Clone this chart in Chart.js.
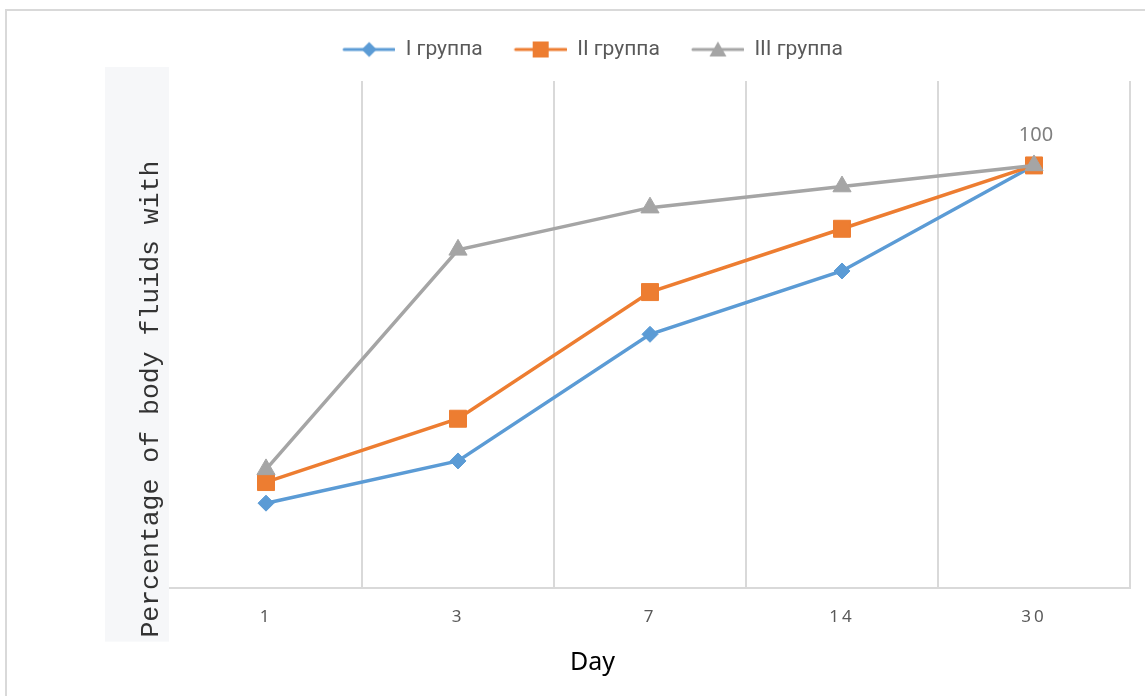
<!DOCTYPE html>
<html lang="ru">
<head>
<meta charset="UTF-8">
<title>Percentage of body fluids</title>
<script src="https://cdn.jsdelivr.net/npm/chart.js"></script>
<style>
    html, body { margin: 0; padding: 0; background: #fff; }
    /* light frame around the figure, only left and top edges are visible */
    #frame {
        position: absolute; left: 5px; top: 9px;
        width: 1200px; height: 720px;
        border-left: 2px solid #d9d9d9; border-top: 2px solid #d9d9d9;
    }
    #wrap { position: absolute; left: 0; top: 0; width: 1145px; height: 696px; }
</style>
</head>
<body>
<div id="frame"></div>
<div id="wrap"><canvas id="grafico"></canvas></div>

<script>
    // data
    const days = ['1', '3', '7', '14', '30'];
    const group1 = [20, 30, 60, 75, 100];
    const group2 = [25, 40, 70, 85, 100];
    const group3 = [28, 80, 90, 95, 100];
    const groupNames = ['I группа', 'II группа', 'III группа'];
    const colors = ['#5b9bd5', '#ed7d31', '#a5a5a5'];
    const markers = ['rectRot', 'rect', 'triangle'];
    const yTitle = 'Percentage of body fluids with';
    const xTitle = 'Day';

    Chart.defaults.font.family = "'Noto Sans', sans-serif";

    // legend icon: short line with the marker in the middle (a bit of room on the left)
    function legendIcon(color, shape) {
        const c = document.createElement('canvas');
        c.width = 62;
        c.height = 20;
        const g = c.getContext('2d');
        g.strokeStyle = color;
        g.fillStyle = color;
        g.lineWidth = 3;
        g.lineCap = 'round';
        g.beginPath();
        g.moveTo(11, 10);
        g.lineTo(61, 10);
        g.stroke();
        const x = 36, y = 10;
        g.beginPath();
        if (shape === 'rectRot') {
            g.moveTo(x, y - 7.5); g.lineTo(x + 7.5, y); g.lineTo(x, y + 7.5); g.lineTo(x - 7.5, y);
        } else if (shape === 'rect') {
            g.rect(x - 8, y - 8, 16, 16);
        } else {
            g.moveTo(x, y - 8); g.lineTo(x + 8.5, y + 7); g.lineTo(x - 8.5, y + 7);
        }
        g.closePath();
        g.fill();
        return c;
    }
    const icons = colors.map((c, i) => legendIcon(c, markers[i]));

    // axis title box, x title, the single data label, spaced-out day labels
    const extras = {
        id: 'extras',
        afterLayout(chart) {
            const sx = chart.scales.x;
            if (!sx._spaced) {
                const orig = sx.drawLabels.bind(sx);
                sx.drawLabels = function (area) {
                    sx.ctx.save();
                    sx.ctx.letterSpacing = '3px';
                    orig(area);
                    sx.ctx.restore();
                };
                sx._spaced = true;
            }
        },
        beforeDraw(chart) {
            const ctx = chart.ctx;
            const a = chart.chartArea;
            ctx.save();
            ctx.fillStyle = '#f6f7f9';
            ctx.fillRect(a.left - 65, a.top - 14, 64, a.bottom - a.top + 68);
            ctx.translate(a.left - 12, a.bottom + 50);
            ctx.rotate(-Math.PI / 2);
            ctx.font = "26.5px 'Liberation Mono', monospace";
            ctx.fillStyle = '#333333';
            ctx.textAlign = 'left';
            ctx.textBaseline = 'alphabetic';
            ctx.fillText(yTitle, 0, 0);
            ctx.restore();
        },
        afterDraw(chart) {
            const ctx = chart.ctx;
            const a = chart.chartArea;
            ctx.save();
            ctx.font = "25px 'Noto Sans', sans-serif";
            ctx.fillStyle = '#000000';
            ctx.textAlign = 'center';
            ctx.textBaseline = 'middle';
            ctx.fillText(xTitle, a.left + (a.right - a.left) * 0.44, a.bottom + 75);

            const pt = chart.getDatasetMeta(2).data[4];
            ctx.font = "20px 'Noto Sans', sans-serif";
            ctx.fillStyle = '#7f7f7f';
            ctx.fillText(String(group3[4]), pt.x + 2, pt.y - 30);
            ctx.restore();
        }
    };

    const seriesData = [group1, group2, group3];
    const datasets = seriesData.map((values, i) => ({
        label: groupNames[i],
        data: values,
        borderColor: colors[i],
        backgroundColor: colors[i],
        borderWidth: 3.5,
        pointStyle: markers[i],
        pointRadius: [8, 12, 10.5][i],
        pointBorderWidth: 1,
        pointBackgroundColor: colors[i],
        pointBorderColor: colors[i],
        tension: 0,
        order: 3 - i
    }));

    new Chart(document.getElementById('grafico'), {
        type: 'line',
        data: { labels: days, datasets: datasets },
        options: {
            responsive: true,
            maintainAspectRatio: false,
            animation: false,
            layout: { padding: { left: 46, right: 15, top: 17, bottom: 50 } },
            plugins: {
                tooltip: { enabled: false },
                legend: {
                    position: 'top',
                    labels: {
                        usePointStyle: true,
                        pointStyleWidth: 62,
                        padding: 22,
                        color: '#595959',
                        font: { size: 21, family: "Roboto, 'Noto Sans', sans-serif" },
                        generateLabels(chart) {
                            const items = Chart.defaults.plugins.legend.labels.generateLabels(chart);
                            items.sort((a, b) => a.datasetIndex - b.datasetIndex);
                            items.forEach(it => { it.pointStyle = icons[it.datasetIndex]; });
                            return items;
                        }
                    }
                }
            },
            scales: {
                x: {
                    offset: true,
                    grid: {
                        offset: true,
                        drawTicks: false,
                        lineWidth: 2,
                        color: (c) => c.index === 0 ? 'rgba(0,0,0,0)' : '#d9d9d9'
                    },
                    border: { color: '#d9d9d9', width: 2 },
                    ticks: { color: '#595959', font: { size: 17 }, padding: 19 }
                },
                // empty top axis, only keeps a gap between the legend and the plot
                gap: {
                    type: 'linear',
                    position: 'top',
                    ticks: { display: false },
                    grid: { display: false },
                    border: { display: false },
                    afterFit(scale) { scale.height = 11; }
                },
                y: {
                    min: 0,
                    max: 120,
                    ticks: { display: false },
                    grid: { display: false },
                    border: { display: false },
                    afterFit(scale) { scale.width = 124; }
                }
            }
        },
        plugins: [extras]
    });
</script>
</body>
</html>
